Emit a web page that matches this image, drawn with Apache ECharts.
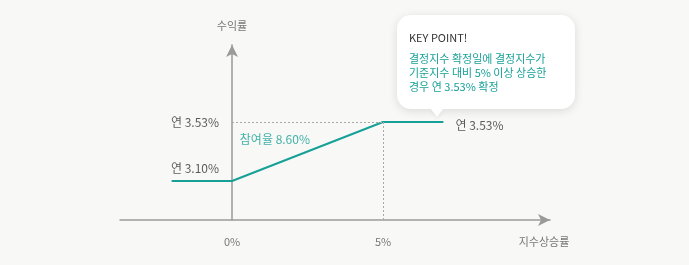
<!DOCTYPE html>
<html>
<head>
<meta charset="utf-8">
<script src="https://cdn.jsdelivr.net/npm/echarts@6/dist/echarts.min.js"></script>
<style>
html, body { margin: 0; padding: 0; background: #f8f8f6; }
#chart { width: 689px; height: 265px; }
</style>
</head>
<body>
<div id="chart"></div>
<script type="text/javascript">
// 수익구조 데이터
var payoffX = [-2, 0, 5, 7];
var payoffY = [3.10, 3.10, 3.53, 3.53];
var tickValues = [0, 5];
var tickLabels = ['0%', '5%'];
var rateLow = 3.10;
var rateHigh = 3.53;
var participation = '참여율 8.60%';
var keyTitle = 'KEY POINT!';
var keyLines = ['결정지수 확정일에 결정지수가', '기준지수 대비 5% 이상 상승한', '경우 연 3.53% 확정'];

var FONT = '"Noto Sans CJK KR", "Noto Sans", sans-serif';
var TEAL = '#17a097';
var AXIS = '#9a9a9a';

var myChart = echarts.init(document.getElementById('chart'));

var lineData = [];
for (var i = 0; i < payoffX.length; i++) {
	lineData.push([payoffX[i], payoffY[i]]);
}

var option = {
	backgroundColor: '#f8f8f6',
	animation: false,
	textStyle: { fontFamily: FONT },
	grid: { left: 120, right: 139, top: 45, bottom: 45 },
	xAxis: {
		type: 'value',
		min: -3.71, max: 10.53,
		splitLine: { show: false },
		axisTick: { show: false },
		axisLine: { lineStyle: { color: AXIS, width: 1.5 }, symbol: ['none', 'arrow'], symbolSize: [9, 12] },
		axisLabel: {
			customValues: tickValues,
			formatter: function (v) { return tickLabels[tickValues.indexOf(v)]; },
			color: '#777', fontSize: 11, fontFamily: FONT, margin: 16
		}
	},
	yAxis: {
		type: 'value',
		min: 2.816, max: 4.091,
		splitLine: { show: false },
		axisTick: { show: false },
		axisLabel: { show: false },
		axisLine: { onZero: true, lineStyle: { color: AXIS, width: 1.5 }, symbol: ['none', 'arrow'], symbolSize: [9, 12] },
		name: '수익률',
		nameLocation: 'end',
		nameGap: 14,
		nameTextStyle: { color: '#777', fontSize: 11, fontFamily: FONT }
	},
	series: [
		{
			type: 'line',
			data: lineData,
			symbol: 'none',
			lineStyle: { color: TEAL, width: 2 },
			z: 3,
			markLine: {
				silent: true,
				symbol: 'none',
				label: { show: false },
				lineStyle: { color: '#aaa', type: [2, 2], width: 1 },
				data: [
					[{ coord: [0, rateHigh] }, { coord: [5, rateHigh] }],
					[{ coord: [5, rateHigh] }, { coord: [5, 2.816] }]
				]
			}
		},
		{
			type: 'scatter',
			symbolSize: 0,
			z: 4,
			label: { show: true, fontFamily: FONT, fontSize: 12, color: '#333' },
			data: [
				{ value: [0, rateHigh], label: { position: 'left', distance: 13, formatter: '연 ' + rateHigh.toFixed(2) + '%' } },
				{ value: [0, rateLow], label: { position: 'left', distance: 13, offset: [0, -13], formatter: '연 ' + rateLow.toFixed(2) + '%' } },
				{ value: [7, rateHigh], label: { position: 'right', distance: 12, offset: [0, 3], formatter: '연 ' + rateHigh.toFixed(2) + '%' } },
				{ value: [1.42, 3.406], label: { position: 'inside', color: TEAL, formatter: participation } }
			]
		}
	],
	graphic: [
		{
			type: 'text',
			x: 544, y: 242,
			style: { text: '지수상승률', fill: '#777', font: '11px ' + FONT, align: 'center', verticalAlign: 'middle' }
		},
		{
			type: 'group',
			left: 397, top: 15,
			children: [
				{
					type: 'rect',
					shape: { x: 0, y: 0, width: 178, height: 94, r: 14 },
					style: { fill: '#fff', shadowBlur: 10, shadowColor: 'rgba(0,0,0,0.12)', shadowOffsetY: 2 }
				},
				{
					type: 'polygon',
					shape: { points: [[33, 93], [47, 93], [40, 102]] },
					style: { fill: '#fff', shadowBlur: 4, shadowColor: 'rgba(0,0,0,0.06)', shadowOffsetY: 2 }
				},
				{
					type: 'rect',
					shape: { x: 30, y: 86, width: 20, height: 8 },
					style: { fill: '#fff' }
				},
				{
					type: 'text',
					x: 12, y: 17,
					style: { text: keyTitle, fill: '#333', font: '11px ' + FONT }
				},
				{
					type: 'text',
					x: 12, y: 37,
					style: { text: keyLines.join('\n'), fill: TEAL, font: '11px ' + FONT, lineHeight: 14 }
				}
			]
		}
	]
};
myChart.setOption(option);
</script>
</body>
</html>
